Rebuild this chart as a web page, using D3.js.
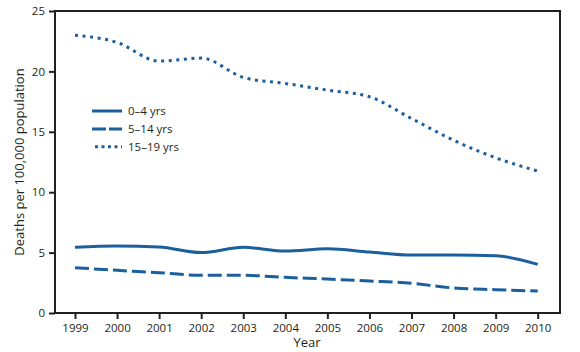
<!DOCTYPE html>
<html><head><meta charset="utf-8">
<script src="https://cdn.jsdelivr.net/npm/d3@7"></script>
<style>body{margin:0;background:#fff}svg text{font-family:"Open Sans","Liberation Sans",sans-serif;fill:#231f20}</style>
</head><body>
<svg id="c" width="580" height="352"></svg>
<script>
const years = [1999,2000,2001,2002,2003,2004,2005,2006,2007,2008,2009,2010];
const age0to4 = [5.44,5.55,5.46,5.0,5.44,5.13,5.32,5.05,4.8,4.8,4.74,4.03];
const age5to14 = [3.75,3.53,3.34,3.12,3.12,2.95,2.81,2.65,2.46,2.07,1.93,1.82];
const age15to19 = [23.0,22.4,20.85,21.1,19.5,19.0,18.45,17.9,16.1,14.3,12.85,11.75];
const seriesNames = ["0\u20134 yrs","5\u201314 yrs","15\u201319 yrs"];
const yTicks = [0,5,10,15,20,25];

const svg = d3.select("#c");
const L=55, R=560, T=11, B=313;
const color="#1b5f9e", axisColor="#231f20";
const x = d3.scalePoint().domain(years).range([75,537.7]);
const y = d3.scaleLinear().domain([0,25]).range([B,T]);

svg.append("rect").attr("x",L).attr("y",T).attr("width",R-L).attr("height",B-T)
  .attr("fill","none").attr("stroke",axisColor).attr("stroke-width",2);

const xa = svg.append("g").attr("transform",`translate(0,${B})`)
  .call(d3.axisBottom(x).tickSize(6).tickPadding(5).tickSizeOuter(0));
const ya = svg.append("g").attr("transform",`translate(${L},0)`)
  .call(d3.axisLeft(y).tickValues(yTicks).tickSize(6).tickPadding(4).tickSizeOuter(0));
[xa,ya].forEach(a=>{
  a.select(".domain").remove();
  a.selectAll("line").attr("stroke",axisColor).attr("stroke-width",2);
  a.selectAll("text").attr("font-size",11.5).attr("fill",axisColor).style("font-family",'"Open Sans",sans-serif');
});

const styles = [null,"14,5","3,4.6"];
const data = [age0to4, age5to14, age15to19];
const line = d3.line().x((d,i)=>x(years[i])).y(d=>y(d)).curve(d3.curveMonotoneX);
data.forEach((s,k)=>{
  svg.append("path").attr("d",line(s)).attr("fill","none").attr("stroke",color)
    .attr("stroke-width",3).attr("stroke-dasharray",styles[k]);
});

const legY=[111,129,146.7];
const legX0=[92,92,95], legX1=122;
const legDash=[null,"14,3","3,3.5"];
seriesNames.forEach((n,k)=>{
  svg.append("line").attr("x1",legX0[k]).attr("x2",legX1).attr("y1",legY[k]).attr("y2",legY[k])
    .attr("stroke",color).attr("stroke-width",3).attr("stroke-dasharray",legDash[k]);
  svg.append("text").attr("x",128).attr("y",legY[k]+4).attr("font-size",11.5).text(n);
});

svg.append("text").attr("x",307).attr("y",347).attr("text-anchor","middle").attr("font-size",13).text("Year");
svg.append("text").attr("transform",`translate(24,162) rotate(-90)`).attr("text-anchor","middle")
  .attr("font-size",13).text("Deaths per 100,000 population");
</script>
</body></html>
